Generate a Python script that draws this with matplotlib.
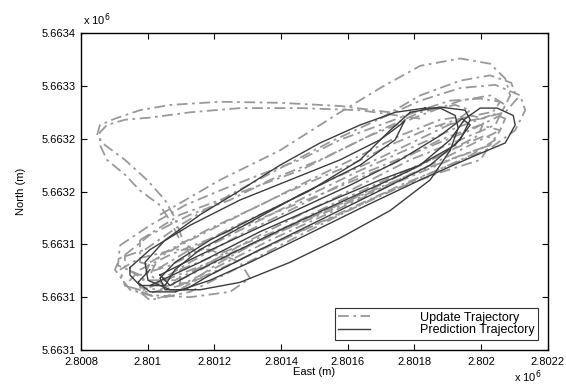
import matplotlib
matplotlib.use('Agg')
import matplotlib.pyplot as plt
import numpy as np

plt.rcParams['font.family'] = ['Liberation Sans', 'DejaVu Sans']

# positions in metres: east = 2800000 + e, north = 5663000 + n
E0 = 2800000
N0 = 5663000

# update trajectories (gray, dash-dot)
g1_e = [992, 1097, 1247, 1397, 1547, 1697, 1817, 1937, 2042, 2117, 2132, 2102, 2027, 1907, 1757, 1577, 1397, 1247, 1127, 1037, 947, 902, 917, 992]
g1_n = [195, 218, 247, 272, 297, 319, 336, 348, 351, 341, 327, 308, 291, 275, 256, 228, 199, 174, 155, 149, 157, 176, 187, 195]
g2_e = [1037, 1187, 1337, 1487, 1637, 1757, 1877, 1967, 2012, 1991, 1877, 1727, 1547, 1367, 1217, 1127, 1052, 1007, 1037]
g2_n = [190, 215, 237, 261, 284, 303, 318, 322, 319, 303, 284, 263, 237, 209, 183, 164, 161, 171, 190]
g3_e = [932, 1007, 1127, 1247, 1367, 1517, 1667, 1817, 1937, 2027, 2072, 2042, 1937, 1787, 1607, 1457, 1307, 1187, 1082, 992, 932, 932]
g3_n = [190, 209, 228, 242, 261, 280, 303, 322, 336, 341, 332, 313, 299, 280, 251, 228, 204, 183, 166, 166, 178, 190]
g4_e = [977, 1067, 1217, 1367, 1547, 1727, 1877, 1997, 2057, 2027, 1907, 1727, 1547, 1367, 1217, 1097, 1007, 932, 977]
g4_n = [176, 190, 209, 228, 251, 275, 299, 313, 308, 294, 280, 256, 230, 204, 180, 161, 154, 161, 176]
g5_e = [1037, 1217, 1397, 1577, 1697, 1817, 1937, 2027, 2072, 2087, 2057, 1967, 1817, 1637, 1457, 1277, 1127, 1037]
g5_n = [228, 261, 289, 325, 348, 369, 376, 371, 357, 341, 322, 308, 289, 266, 237, 209, 183, 166]
g6_e = [1727, 1577, 1397, 1217, 1067, 977, 902, 857, 848, 872, 932, 998, 1052, 1082, 1103, 1127]
g6_n = [325, 331, 334, 335, 332, 327, 319, 313, 303, 294, 280, 261, 242, 225, 206, 190]
g7_e = [1817, 1637, 1457, 1277, 1127, 1007, 932, 878, 857, 857, 878, 932, 977, 1037, 1070, 1097, 1157]
g7_n = [319, 327, 329, 329, 325, 320, 318, 313, 306, 294, 280, 266, 251, 237, 221, 204, 190]
g8_e = [1007, 1127, 1247, 1367, 1487, 1607, 1727, 1847, 1937, 2027, 2072, 2057, 1967, 1847, 1697, 1547, 1397, 1247, 1127, 1037, 977, 1007]
g8_n = [183, 204, 223, 242, 259, 275, 294, 310, 319, 325, 319, 308, 294, 275, 253, 232, 212, 190, 171, 157, 159, 183]
g9_e = [1052, 1187, 1337, 1487, 1637, 1787, 1907, 2012, 2042, 1967, 1817, 1637, 1457, 1307, 1157, 1067, 1007, 977, 1052]
g9_n = [166, 183, 204, 225, 247, 270, 289, 303, 299, 284, 263, 237, 212, 190, 168, 152, 147, 155, 166]
g10_e = [917, 1007, 1112, 1217, 1337, 1457, 1577, 1697, 1817, 1907, 1997, 2057, 2027, 1922, 1787, 1637, 1487, 1337, 1187, 1067, 977, 911, 917]
g10_n = [199, 218, 237, 251, 266, 280, 299, 313, 327, 336, 338, 335, 322, 310, 291, 270, 247, 223, 199, 180, 171, 180, 199]
g11_e = [1697, 1817, 1937, 2027, 2090, 2108, 2072, 1997, 1877]
g11_n = [319, 341, 355, 360, 353, 338, 325, 319, 312]
g12_e = [917, 977, 1082, 1187, 1277, 1307, 1247, 1127, 1007, 932, 917]
g12_n = [176, 187, 195, 195, 183, 168, 155, 150, 152, 161, 176]
g13_e = [977, 1097, 1217, 1337, 1457, 1577, 1697, 1817, 1922, 1967, 1922, 1817, 1697, 1547, 1397, 1247, 1127, 1037, 977, 977]
g13_n = [204, 228, 242, 256, 270, 289, 308, 325, 332, 327, 316, 300, 282, 261, 237, 215, 195, 178, 183, 204]
g14_e = [1097, 1247, 1427, 1607, 1787, 1937, 2027, 1997, 1877, 1697, 1517, 1337, 1187, 1097, 1097]
g14_n = [176, 195, 218, 242, 266, 284, 294, 280, 268, 247, 221, 195, 171, 161, 176]

# prediction trajectories (dark, solid)
d1_e = [1007, 1157, 1337, 1517, 1697, 1817, 1907, 1952, 1997, 2048, 2096, 2102, 2072, 1967, 1817, 1637, 1457, 1307, 1187, 1082, 1007, 971, 1007]
d1_n = [161, 183, 212, 237, 261, 275, 299, 319, 329, 329, 322, 313, 296, 282, 261, 234, 206, 183, 166, 155, 155, 164, 176]
d2_e = [1832, 1742, 1637, 1517, 1397, 1277, 1157, 1052, 992, 1001, 1067, 1157, 1277, 1427, 1577, 1727, 1847, 1907, 1931, 1922, 1877, 1832]
d2_n = [329, 325, 313, 296, 275, 251, 228, 204, 183, 166, 157, 157, 164, 183, 206, 232, 261, 289, 310, 322, 329, 329]
d3_e = [1787, 1877, 1952, 1967, 1937, 1847, 1697, 1517, 1337, 1187, 1112, 1052, 1037, 1082, 1187, 1337, 1487, 1637, 1727, 1787]
d3_n = [325, 330, 327, 318, 299, 275, 251, 223, 195, 171, 157, 157, 168, 183, 204, 228, 251, 280, 308, 325]
d4_e = [947, 1007, 1127, 1277, 1427, 1577, 1697, 1757, 1772, 1742, 1637, 1457, 1307, 1157, 1082, 1052, 977, 947, 947]
d4_n = [178, 195, 218, 242, 261, 280, 299, 313, 318, 299, 275, 247, 221, 195, 176, 161, 161, 171, 178]
d5_e = [1037, 1157, 1307, 1457, 1607, 1757, 1877, 1943, 1967, 1922, 1787, 1607, 1427, 1262, 1142, 1067, 1037]
d5_n = [171, 190, 212, 234, 256, 280, 303, 319, 313, 294, 270, 244, 218, 193, 174, 161, 171]

xticks = [2.8008, 2.8010, 2.8012, 2.8014, 2.8016, 2.8018, 2.8020, 2.8022]
xlabels = ['2.8008', '2.801', '2.8012', '2.8014', '2.8016', '2.8018', '2.802', '2.8022']
yticks = [5.66310, 5.66315, 5.66320, 5.66325, 5.66330, 5.66335, 5.66340]
ylabels = ['5.6631', '5.6631', '5.6631', '5.6632', '5.6632', '5.6633', '5.6634']

fig = plt.figure(figsize=(5.66, 3.85), dpi=100)
ax = fig.add_axes([0.143, 0.091, 0.825, 0.823])

gray = '#999999'
dark = '#3c3c3c'
gray_sets = [(g1_e, g1_n), (g2_e, g2_n), (g3_e, g3_n), (g4_e, g4_n),
             (g5_e, g5_n), (g6_e, g6_n), (g7_e, g7_n), (g8_e, g8_n),
             (g9_e, g9_n), (g10_e, g10_n), (g11_e, g11_n), (g12_e, g12_n),
             (g13_e, g13_n), (g14_e, g14_n)]
for i, (e, n) in enumerate(gray_sets):
    x = (E0 + np.array(e)) / 1e6
    y = (N0 + np.array(n)) / 1e6
    ax.plot(x, y, color=gray, lw=1.3, ls=(0, (6, 2.5, 1.5, 2.5)),
            label='Update Trajectory' if i == 0 else None)

dark_sets = [(d1_e, d1_n), (d2_e, d2_n), (d3_e, d3_n), (d4_e, d4_n), (d5_e, d5_n)]
for i, (e, n) in enumerate(dark_sets):
    x = (E0 + np.array(e)) / 1e6
    y = (N0 + np.array(n)) / 1e6
    ax.plot(x, y, color=dark, lw=1.0,
            label='Prediction Trajectory' if i == 0 else None)

ax.set_xlim(2.8008, 2.8022)
ax.set_ylim(5.6631, 5.6634)
ax.set_xticks(xticks)
ax.set_xticklabels(xlabels)
ax.set_yticks(yticks)
ax.set_yticklabels(ylabels)
ax.tick_params(direction='in', top=True, right=True, length=4, width=0.8,
               labelsize=8)
ax.tick_params(axis='x', pad=5)
ax.tick_params(axis='y', pad=4)
for s in ax.spines.values():
    s.set_linewidth(1.0)

ax.set_xlabel('East (m)', fontsize=8, labelpad=0)
ax.set_ylabel('North (m)', fontsize=8, labelpad=11)
fig.text(0.147, 0.935, r'x 10$^6$', fontsize=8)
fig.text(0.908, 0.01, r'x 10$^6$', fontsize=8)

leg = ax.legend(loc='lower right', fontsize=9, frameon=True, fancybox=False,
                edgecolor='black', borderpad=0.3, handlelength=2.5,
                handletextpad=4.0, labelspacing=0.05, borderaxespad=0.8)
leg.get_frame().set_linewidth(0.8)

fig.savefig('out.png', dpi=100)
